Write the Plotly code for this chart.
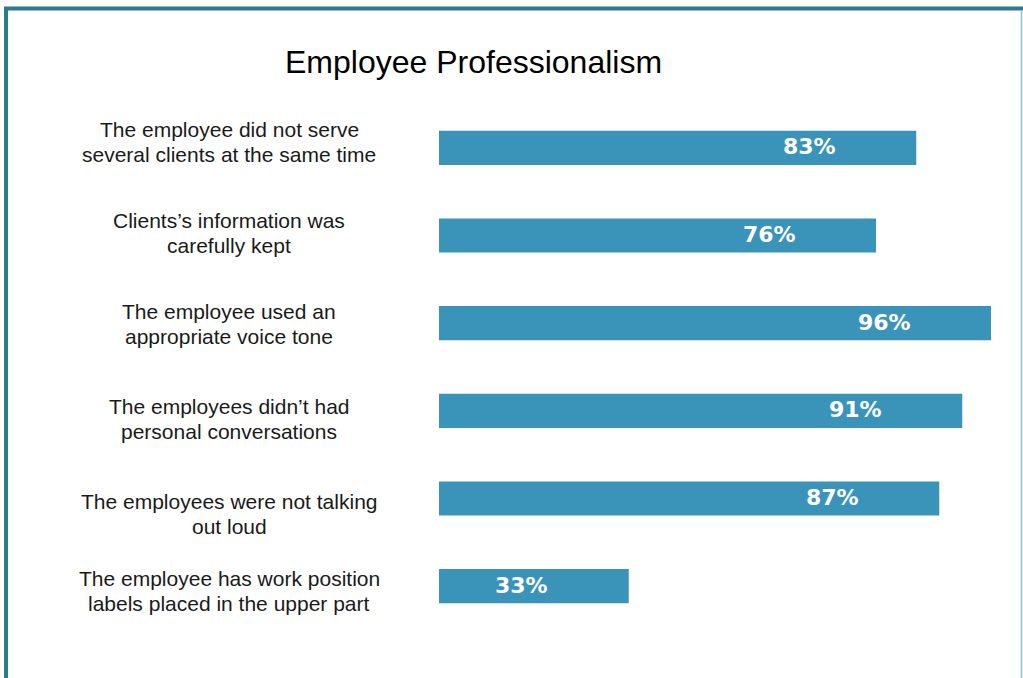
import plotly.graph_objects as go

# Survey items and share of positive answers (%)
categories = [
    "The employee did not serve<br>several clients at the same time",
    "Clients\u2019s information was<br>carefully kept",
    "The employee used an<br>appropriate voice tone",
    "The employees didn\u2019t had<br>personal conversations",
    "The employees were not talking<br>out loud",
    "The employee has work position<br>labels placed in the upper part",
]
values = [83, 76, 96, 91, 87, 33]
title_text = "Employee Professionalism"

# Page geometry (pixels)
W, H = 1023, 678
ML, MR, MT, MB = 439, 9, 104, 48
PW, PH = W - ML - MR, H - MT - MB


def px_x(x):
    return (x - ML) / PW


def px_y(y):
    return (H - MB - y) / PH


BAR = "#3A94B9"
FRAME = "#2A7B8E"
TEXT = "#1A1A1A"

# small vertical nudges of the item captions, in pixels
caption_shift = [5.5, 2.5, -0.5, -8, -15.5, -5]
LINE_GAP = 25

fig = go.Figure(
    go.Bar(
        x=values,
        y=list(range(len(categories))),
        orientation="h",
        width=0.39,
        marker=dict(color=BAR, line=dict(width=0)),
        hoverinfo="skip",
    )
)

annotations = []
for i, (cat, v) in enumerate(zip(categories, values)):
    lines = cat.split("<br>")
    n = len(lines)
    for k, line in enumerate(lines):
        offset = ((n - 1) / 2 - k) * LINE_GAP
        annotations.append(dict(
            x=px_x(229), xref="paper", y=i, yref="y", yshift=caption_shift[i] + offset,
            text=line, showarrow=False, align="center", xanchor="center", yanchor="middle",
            font=dict(family="Liberation Sans, Arial, sans-serif", size=21, color=TEXT),
        ))
    annotations.append(dict(
        x=v, xref="x", y=i, yref="y", xshift=-107, yshift=1,
        text=f"{v}%", showarrow=False, xanchor="center", yanchor="middle",
        font=dict(family="DejaVu Sans, Verdana, sans-serif", size=22, color="white", weight="bold"),
    ))

annotations.append(dict(
    x=px_x(473), xref="paper", y=px_y(62), yref="paper",
    text=title_text, showarrow=False, xanchor="center", yanchor="middle",
    font=dict(family="Liberation Sans, Arial, sans-serif", size=32, color="#000000"),
))

shapes = [
    # top frame edge
    dict(type="line", xref="paper", yref="paper", x0=px_x(4), x1=px_x(1023),
         y0=px_y(8.5), y1=px_y(8.5), line=dict(color=FRAME, width=4)),
    # left frame edge
    dict(type="line", xref="paper", yref="paper", x0=px_x(6), x1=px_x(6),
         y0=px_y(7), y1=px_y(678), line=dict(color=FRAME, width=4)),
    # right frame edge
    dict(type="line", xref="paper", yref="paper", x0=px_x(1021.5), x1=px_x(1021.5),
         y0=px_y(10), y1=px_y(678), line=dict(color="#8EC1D2", width=1.5)),
]

fig.update_layout(
    width=W, height=H,
    margin=dict(l=ML, r=MR, t=MT, b=MB),
    paper_bgcolor="white", plot_bgcolor="white",
    showlegend=False,
    xaxis=dict(range=[0, 100], visible=False, fixedrange=True),
    yaxis=dict(range=[len(categories) - 0.5, -0.5], visible=False, fixedrange=True),
    annotations=annotations,
    shapes=shapes,
)

fig.write_html("out.html", config={"displayModeBar": False})
